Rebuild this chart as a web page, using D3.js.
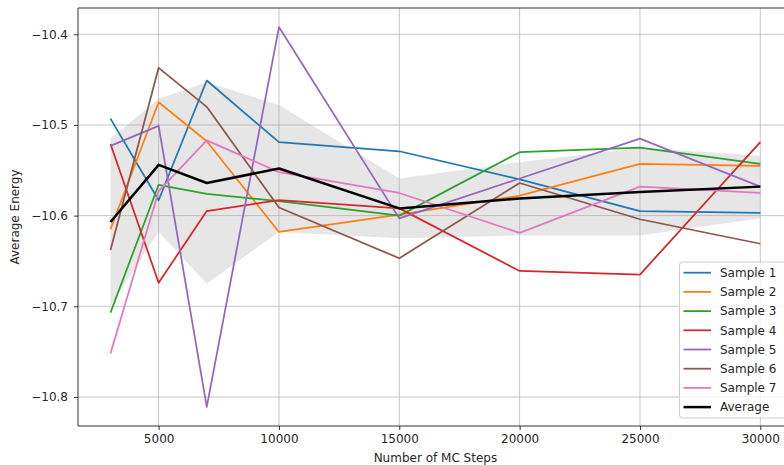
<!DOCTYPE html>
<html><head><meta charset="utf-8">
<script src="https://cdn.jsdelivr.net/npm/d3@7"></script>
<style>body{margin:0;background:#fff}svg{display:block}text{font-family:"DejaVu Sans",sans-serif;fill:#262626}</style>
</head><body><svg id="c" width="784" height="465"></svg>
<script>
const steps = [3000, 5000, 7000, 10000, 15000, 20000, 25000, 30000];
const sample1 = [-10.493, -10.583, -10.451, -10.519, -10.529, -10.560, -10.595, -10.597];
const sample2 = [-10.615, -10.475, -10.518, -10.618, -10.599, -10.578, -10.543, -10.545];
const sample3 = [-10.707, -10.566, -10.576, -10.584, -10.600, -10.530, -10.525, -10.543];
const sample4 = [-10.521, -10.674, -10.595, -10.583, -10.592, -10.661, -10.665, -10.519];
const sample5 = [-10.523, -10.501, -10.811, -10.392, -10.603, -10.559, -10.515, -10.568];
const sample6 = [-10.638, -10.437, -10.480, -10.591, -10.647, -10.564, -10.604, -10.631];
const sample7 = [-10.752, -10.573, -10.517, -10.552, -10.575, -10.619, -10.568, -10.575];
const average = [-10.607, -10.544, -10.564, -10.548, -10.592, -10.581, -10.574, -10.568];
const bandUpper = [-10.515, -10.471, -10.453, -10.478, -10.559, -10.541, -10.525, -10.534];
const bandLower = [-10.699, -10.618, -10.675, -10.618, -10.625, -10.622, -10.622, -10.603];
const seriesNames = ["Sample 1","Sample 2","Sample 3","Sample 4","Sample 5","Sample 6","Sample 7","Average"];
const xTicks = [5000, 10000, 15000, 20000, 25000, 30000];
const yTicks = [-10.8, -10.7, -10.6, -10.5, -10.4];
const colors = ["#1f77b4","#ff7f0e","#2ca02c","#d62728","#9467bd","#8c564b","#e377c2","#000000"];

const allSeries = [sample1,sample2,sample3,sample4,sample5,sample6,sample7,average];
const svg = d3.select("#c");
const L = 78, T = 8, R = 792.8, B = 426;
const x = d3.scaleLinear().domain([1650, 31350]).range([L, R]);
const y = d3.scaleLinear().domain([-10.832, -10.371]).range([B, T]);

// band
const area = d3.area().x((d,i)=>x(steps[i])).y0((d,i)=>y(bandLower[i])).y1((d,i)=>y(bandUpper[i]));
svg.append("path").datum(steps).attr("d", area).attr("fill","#808080").attr("fill-opacity",0.2);

// grid
const g = svg.append("g");
xTicks.forEach(t=>g.append("line").attr("x1",x(t)).attr("x2",x(t)).attr("y1",T).attr("y2",B)
  .attr("stroke","#b0b0b0").attr("stroke-width",1).attr("stroke-opacity",0.75));
yTicks.forEach(t=>g.append("line").attr("x1",L).attr("x2",R).attr("y1",y(t)).attr("y2",y(t))
  .attr("stroke","#b0b0b0").attr("stroke-width",1).attr("stroke-opacity",0.75));

// lines
const line = d3.line().x((d,i)=>x(steps[i])).y(d=>y(d));
allSeries.forEach((s,k)=>{
  svg.append("path").datum(s).attr("d", line).attr("fill","none")
    .attr("stroke", colors[k]).attr("stroke-width", k===7 ? 2.5 : 1.75)
    .attr("stroke-linejoin","round").attr("stroke-linecap","butt");
});

// axes
const xAxis = d3.axisBottom(x).tickValues(xTicks).tickFormat(d3.format("d")).tickSize(4).tickPadding(4);
const gx = svg.append("g").attr("transform",`translate(0,${B})`).call(xAxis);
const yAxis = d3.axisLeft(y).tickValues(yTicks).tickFormat(d=>d3.format(".1f")(d).replace("-","\u2212")).tickSize(4).tickPadding(6);
const gy = svg.append("g").attr("transform",`translate(${L},0)`).call(yAxis);
[gx,gy].forEach(a=>{
  a.select(".domain").remove();
  a.selectAll(".tick line").attr("stroke","#333").attr("stroke-width",1);
  a.selectAll(".tick text").style("font-family","DejaVu Sans").style("font-size","12px").attr("fill","#262626");
});
// spines
svg.append("line").attr("x1",L).attr("x2",L).attr("y1",T).attr("y2",B).attr("stroke","#333").attr("stroke-width",1);
svg.append("line").attr("x1",L).attr("x2",R).attr("y1",B).attr("y2",B).attr("stroke","#333").attr("stroke-width",1);
svg.append("line").attr("x1",L).attr("x2",R).attr("y1",T).attr("y2",T).attr("stroke","#333").attr("stroke-width",1);

// labels
svg.append("text").attr("x",(L+R)/2).attr("y",462).attr("text-anchor","middle").style("font-size","12px").text("Number of MC Steps");
svg.append("text").attr("transform",`translate(19,${(T+B)/2}) rotate(-90)`).attr("text-anchor","middle").style("font-size","12px").text("Average Energy");

// legend
const lg = svg.append("g");
lg.append("rect").attr("x",679.5).attr("y",262).attr("width",130).attr("height",156).attr("rx",3)
  .attr("fill","#fff").attr("fill-opacity",0.8).attr("stroke","#cccccc").attr("stroke-width",1);
seriesNames.forEach((n,k)=>{
  const cy = 272.7 + k*19.2;
  lg.append("line").attr("x1",683.5).attr("x2",711).attr("y1",cy).attr("y2",cy)
    .attr("stroke",colors[k]).attr("stroke-width",k===7?2.5:1.75);
  lg.append("text").attr("x",720).attr("y",cy).attr("dy","0.36em").style("font-size","12px").text(n);
});
</script></body></html>
